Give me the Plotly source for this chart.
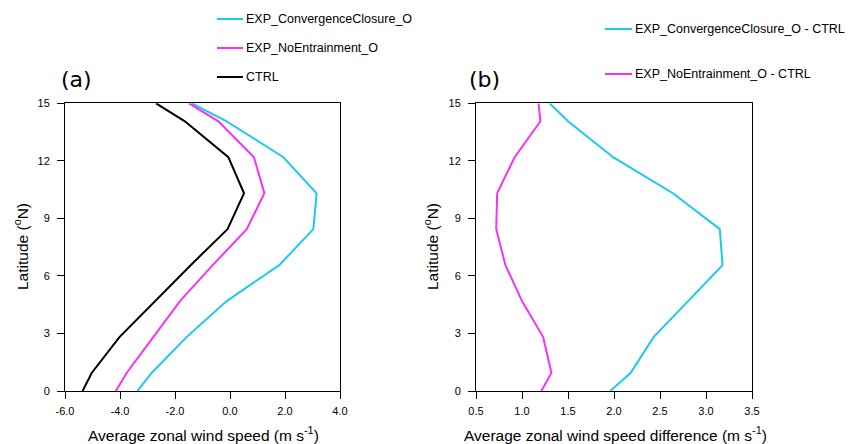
import plotly.graph_objects as go

lat = [0, 0.94, 2.81, 4.69, 6.56, 8.44, 10.31, 12.19, 14.06, 15]

ctrl = [-5.36, -5.03, -4.02, -2.73, -1.43, -0.09, 0.51, -0.06, -1.64, -2.69]
noent = [-4.15, -3.76, -2.79, -1.82, -0.63, 0.61, 1.25, 0.87, -0.42, -1.49]
conv = [-3.37, -2.85, -1.58, -0.12, 1.79, 3.03, 3.15, 1.94, -0.12, -1.39]

diff_noent = [1.21, 1.32, 1.23, 1.00, 0.82, 0.72, 0.73, 0.92, 1.20, 1.18]
diff_conv = [1.96, 2.18, 2.43, 2.81, 3.18, 3.15, 2.64, 1.99, 1.50, 1.30]

xa_ticks = [-6, -4, -2, 0, 2, 4]
xa_text = ["-6.0", "-4.0", "-2.0", "0.0", "2.0", "4.0"]
xb_ticks = [0.5, 1.0, 1.5, 2.0, 2.5, 3.0, 3.5]
xb_text = ["0.5", "1.0", "1.5", "2.0", "2.5", "3.0", "3.5"]
y_ticks = [0, 3, 6, 9, 12, 15]

CYAN = "#1ec8f0"
MAG = "#f533f2"
BLK = "#000000"
FONT = "Liberation Sans, Arial, sans-serif"
PFONT = "DejaVu Sans, sans-serif"

W, H = 849, 444

def px(x):
    return x / W

def py(y):
    return 1 - y / H

fig = go.Figure()
fig.add_trace(go.Scatter(x=conv, y=lat, mode="lines", line=dict(color=CYAN, width=2), xaxis="x", yaxis="y", showlegend=False))
fig.add_trace(go.Scatter(x=noent, y=lat, mode="lines", line=dict(color=MAG, width=2), xaxis="x", yaxis="y", showlegend=False))
fig.add_trace(go.Scatter(x=ctrl, y=lat, mode="lines", line=dict(color=BLK, width=2), xaxis="x", yaxis="y", showlegend=False))
fig.add_trace(go.Scatter(x=diff_conv, y=lat, mode="lines", line=dict(color=CYAN, width=2), xaxis="x2", yaxis="y2", showlegend=False))
fig.add_trace(go.Scatter(x=diff_noent, y=lat, mode="lines", line=dict(color=MAG, width=2), xaxis="x2", yaxis="y2", showlegend=False))

axis_common = dict(showgrid=False, zeroline=False, showline=True, linecolor="black", linewidth=1,
                   mirror=True, ticks="outside", ticklen=7, tickwidth=1, tickcolor="black",
                   automargin=False,
                   tickfont=dict(family=FONT, size=11, color="black"))

ydom = [py(391), py(103.3)]
fig.update_layout(
    width=W, height=H,
    margin=dict(l=0, r=0, t=0, b=0, autoexpand=False),
    paper_bgcolor="white", plot_bgcolor="white",
    font=dict(family=FONT, color="black"),
    xaxis=dict(domain=[px(65), px(340)], range=[-6, 4], tickvals=xa_ticks, ticktext=xa_text, anchor="y",
               ticklabelstandoff=3, **axis_common),
    yaxis=dict(domain=ydom, range=[0, 15], tickvals=y_ticks, anchor="x", ticklabelstandoff=5, **axis_common),
    xaxis2=dict(domain=[px(476), px(752)], range=[0.5, 3.5], tickvals=xb_ticks, ticktext=xb_text, anchor="y2",
                ticklabelstandoff=3, **axis_common),
    yaxis2=dict(domain=ydom, range=[0, 15], tickvals=y_ticks, anchor="x2", ticklabelstandoff=5, **axis_common),
)

ann = []
def text(x, y, s, size, xanchor="left", textangle=0, family=FONT):
    ann.append(dict(x=px(x), y=py(y), xref="paper", yref="paper", text=s, showarrow=False,
                    xanchor=xanchor, yanchor="middle", textangle=textangle,
                    font=dict(family=family, size=size, color="black")))

text(203, 434, "Average zonal wind speed (m s<sup>-1</sup>)", 15.5, "center")
text(615, 434, "Average zonal wind speed difference (m s<sup>-1</sup>)", 15.5, "center")
text(21, 247, "Latitude (<sup>o</sup>N)", 15.5, "center", -90)
text(431, 247, "Latitude (<sup>o</sup>N)", 15.5, "center", -90)
text(59, 80, "(a)", 22, family=PFONT)
text(467, 80, "(b)", 22, family=PFONT)

shapes = []
def leg(x0, x1, y, color, label):
    shapes.append(dict(type="line", xref="paper", yref="paper", x0=px(x0), x1=px(x1), y0=py(y), y1=py(y),
                       line=dict(color=color, width=2)))
    text(x1 + 1, y, label, 12.5)

leg(217, 243, 19, CYAN, "EXP_ConvergenceClosure_O")
leg(217, 243, 48, MAG, "EXP_NoEntrainment_O")
leg(217, 243, 77, BLK, "CTRL")
leg(605, 632, 29, CYAN, "EXP_ConvergenceClosure_O - CTRL")
leg(605, 632, 74, MAG, "EXP_NoEntrainment_O - CTRL")

fig.update_layout(annotations=ann, shapes=shapes)
fig.write_html("out.html")
